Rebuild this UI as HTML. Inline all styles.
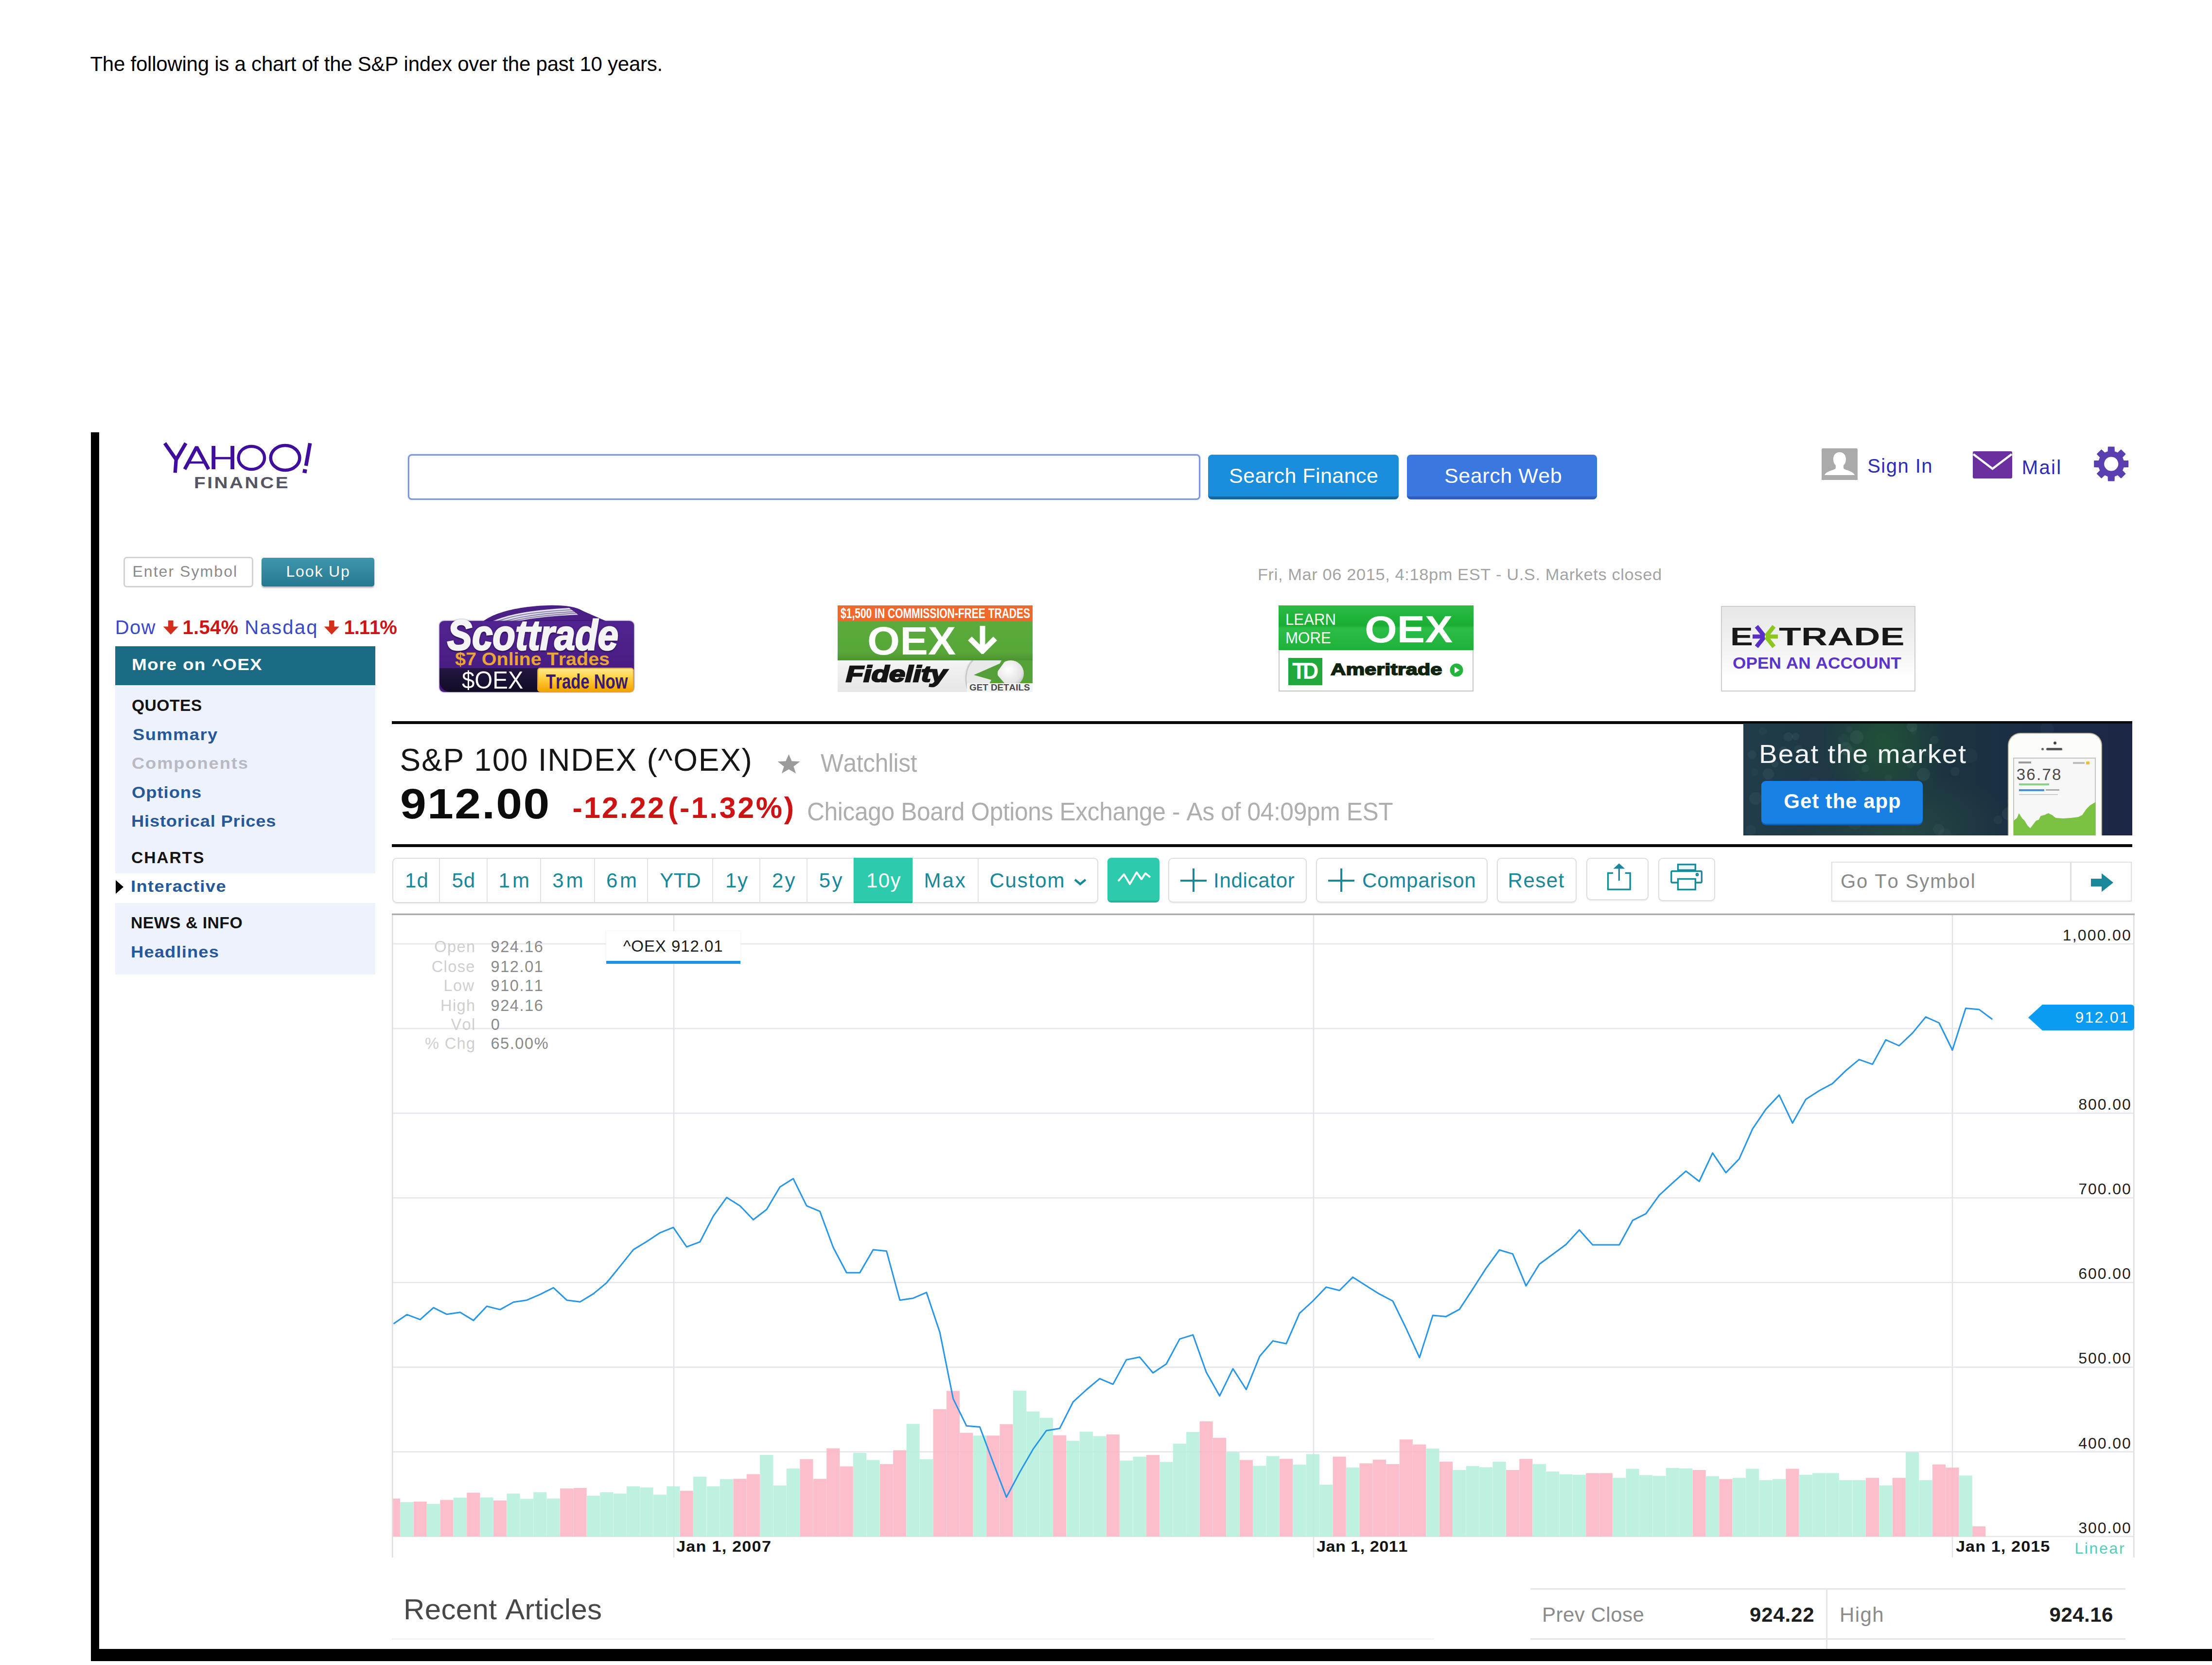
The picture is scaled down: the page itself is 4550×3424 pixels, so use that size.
<!DOCTYPE html>
<html><head><meta charset="utf-8"><title>S&amp;P 100 INDEX chart</title>
<style>
html,body{margin:0;padding:0;background:#fff;}
body{width:4550px;height:3424px;position:relative;overflow:hidden;font-family:"Liberation Sans",sans-serif;font-kerning:none;}
span{font-kerning:none;}
</style></head><body>
<!-- sec_header -->
<span style="position:absolute;left:185.46px;top:111.45px;font-size:42px;line-height:1;white-space:pre;color:#000;letter-spacing:-0.237px;">The following is a chart of the S&amp;P index over the past 10 years.</span>
<div style="position:absolute;left:187.00px;top:889.00px;width:17.00px;height:2527.00px;background:#000;"></div>
<div style="position:absolute;left:187.00px;top:3391.00px;width:4363.00px;height:25.00px;background:#000;"></div>
<svg style="position:absolute;left:300px;top:890px;overflow:visible" width="400" height="140" viewBox="0 0 400 140" fill="none" stroke="#400e9c" stroke-width="7.6" stroke-linecap="butt" stroke-linejoin="miter"><path d="M38.9,21.3 L62.4,55.1 L82.3,21.3 M62.4,53.5 L60.2,82.3" stroke-width="7.3" stroke-linejoin="bevel"/><path d="M79.9,75.0 L104.5,29.3 L129.1,75.0" stroke-width="7.2" stroke-linejoin="bevel"/><path d="M89.5,61.1 L119.3,61.1" stroke-width="4.6"/><path d="M139.2,27.1 L139.2,75.0 M178.1,27.1 L178.1,75.0" stroke-width="7.8"/><path d="M139.2,52.1 L178.1,52.1" stroke-width="4.6"/><ellipse cx="217.3" cy="51.5" rx="26.8" ry="23.7" stroke-width="6.3"/><ellipse cx="286.6" cy="51.5" rx="29.8" ry="25.5" stroke-width="6.6"/><path d="M337.7,21.3 L329.4,67.8" stroke-width="7.6"/><path d="M327.6,75.0 L326.3,82.8" stroke-width="8.4"/></svg>
<span style="position:absolute;left:398.94px;top:975.22px;font-size:34px;line-height:1;white-space:pre;color:#565660;font-weight:700;letter-spacing:3.112px;transform:scaleX(1.1400);transform-origin:0 0;">FINANCE</span>
<div style="position:absolute;left:839.00px;top:934.00px;width:1630.00px;height:94.00px;box-sizing:border-box;border:3px solid #7d96de;border-radius:8px;background:#fff;box-shadow:0 0 3px #b9c6ee;"></div>
<div style="position:absolute;left:2485.00px;top:935.00px;width:392.00px;height:92.00px;box-sizing:border-box;background:#1a8ddb;border-radius:8px;border-bottom:6px solid #17679f;"></div>
<div style="position:absolute;left:2894.00px;top:935.00px;width:391.00px;height:92.00px;box-sizing:border-box;background:#3a78e0;border-radius:8px;border-bottom:6px solid #2d5fba;"></div>
<span style="position:absolute;left:2528.06px;top:956.60px;font-size:43px;line-height:1;white-space:pre;color:#fff;letter-spacing:0.432px;">Search Finance</span>
<span style="position:absolute;left:2971.06px;top:956.60px;font-size:43px;line-height:1;white-space:pre;color:#fff;letter-spacing:0.569px;">Search Web</span>
<svg style="position:absolute;left:3747px;top:922px" width="74" height="65" viewBox="0 0 74 65"><rect width="74" height="65" rx="3" fill="#aaa"/><path d="M37 8c8 0 13 6 13 14 0 6-2 10-5 13v5c0 2 2 3 5 4 9 3 16 6 18 11H6c2-5 9-8 18-11 3-1 5-2 5-4v-5c-3-3-5-7-5-13 0-8 5-14 13-14z" fill="#fff"/><rect y="58" width="74" height="7" fill="#aaa"/></svg>
<span style="position:absolute;left:3841.19px;top:938.14px;font-size:40px;line-height:1;white-space:pre;color:#2d2db4;letter-spacing:1.473px;">Sign In</span>
<svg style="position:absolute;left:4058px;top:928px" width="81" height="56" viewBox="0 0 81 56"><rect width="81" height="56" rx="3" fill="#6b2fa0"/><path d="M1 6 L40.5 36 L80 6" stroke="#fff" stroke-width="4.5" fill="none"/></svg>
<span style="position:absolute;left:4158.75px;top:941.14px;font-size:40px;line-height:1;white-space:pre;color:#2d2db4;letter-spacing:2.349px;">Mail</span>
<svg style="position:absolute;left:0;top:0;overflow:visible" width="10" height="10"><path d="M4336.5 928.7 L4336.8 919.5 L4348.6 919.5 L4348.9 928.7 L4356.2 931.8 L4362.9 925.4 L4371.3 933.8 L4364.9 940.5 L4368.0 947.8 L4377.2 948.1 L4377.2 959.9 L4368.0 960.2 L4364.9 967.5 L4371.3 974.2 L4362.9 982.6 L4356.2 976.2 L4348.9 979.3 L4348.6 988.5 L4336.8 988.5 L4336.5 979.3 L4329.2 976.2 L4322.5 982.6 L4314.1 974.2 L4320.5 967.5 L4317.4 960.2 L4308.2 959.9 L4308.2 948.1 L4317.4 947.8 L4320.5 940.5 L4314.1 933.8 L4322.5 925.4 L4329.2 931.8Z M4342.7 938.5 a15.5 15.5 0 1 0 0.01 0Z" fill="#5b3fb0" fill-rule="evenodd" stroke="#5b3fb0" stroke-width="2" stroke-linejoin="round"/></svg>
<div style="position:absolute;left:254.00px;top:1145.00px;width:267.00px;height:63.00px;box-sizing:border-box;border:3px solid #d2d2d2;border-radius:7px;background:#fff;"></div>
<span style="position:absolute;left:272.38px;top:1158.91px;font-size:32px;line-height:1;white-space:pre;color:#8a8a8a;letter-spacing:2.060px;">Enter Symbol</span>
<div style="position:absolute;left:538.00px;top:1147.00px;width:232.00px;height:59.00px;box-sizing:border-box;background:linear-gradient(#3d97ae,#27788f);border-radius:5px;box-shadow:0 3px 3px #bbb;"></div>
<span style="position:absolute;left:588.38px;top:1158.91px;font-size:32px;line-height:1;white-space:pre;color:#fff;letter-spacing:1.889px;">Look Up</span>
<span style="position:absolute;left:2587.20px;top:1164.57px;font-size:33px;line-height:1;white-space:pre;color:#a3a3a3;letter-spacing:0.624px;transform:scaleX(1.0400);transform-origin:0 0;">Fri, Mar 06 2015, 4:18pm EST - U.S. Markets closed</span>
<!-- sec_side -->
<span style="position:absolute;left:236.75px;top:1269.74px;font-size:40px;line-height:1;white-space:pre;color:#3a49c8;letter-spacing:1.309px;">Dow</span>
<svg style="position:absolute;left:335.0px;top:1276.0px" width="32.5" height="29.0" viewBox="0 0 32 30"><path d="M10.5 0h11v13h10.5L16 30 0 13h10.5z" fill="#d2301c"/></svg>
<span style="position:absolute;left:375.50px;top:1269.74px;font-size:40px;line-height:1;white-space:pre;color:#cc1616;font-weight:700;letter-spacing:0.271px;">1.54%</span>
<span style="position:absolute;left:503.25px;top:1269.74px;font-size:40px;line-height:1;white-space:pre;color:#3a49c8;letter-spacing:2.288px;">Nasdaq</span>
<svg style="position:absolute;left:665.7px;top:1276.0px" width="32.5" height="29.0" viewBox="0 0 32 30"><path d="M10.5 0h11v13h10.5L16 30 0 13h10.5z" fill="#d2301c"/></svg>
<span style="position:absolute;left:707.50px;top:1269.74px;font-size:40px;line-height:1;white-space:pre;color:#cc1616;font-weight:700;letter-spacing:-1.054px;">1.11%</span>
<div style="position:absolute;left:237.00px;top:1329.00px;width:535.00px;height:79.50px;background:#1c6b84;"></div>
<span style="position:absolute;left:270.55px;top:1350.07px;font-size:33px;line-height:1;white-space:pre;color:#fff;font-weight:700;letter-spacing:1.145px;transform:scaleX(1.1200);transform-origin:0 0;">More on ^OEX</span>
<div style="position:absolute;left:237.00px;top:1408.50px;width:535.00px;height:387.50px;background:#eef2fc;"></div>
<div style="position:absolute;left:237.00px;top:1856.50px;width:535.00px;height:147.00px;background:#eef2fc;"></div>
<span style="position:absolute;left:271.06px;top:1433.67px;font-size:33px;line-height:1;white-space:pre;color:#141414;font-weight:700;letter-spacing:0.409px;transform:scaleX(1.0200);transform-origin:0 0;">QUOTES</span>
<span style="position:absolute;left:272.67px;top:1494.07px;font-size:33px;line-height:1;white-space:pre;color:#27589a;font-weight:700;letter-spacing:1.344px;transform:scaleX(1.1000);transform-origin:0 0;">Summary</span>
<span style="position:absolute;left:270.96px;top:1553.47px;font-size:33px;line-height:1;white-space:pre;color:#b9b9c2;font-weight:700;letter-spacing:1.728px;transform:scaleX(1.1000);transform-origin:0 0;">Components</span>
<span style="position:absolute;left:270.96px;top:1612.77px;font-size:33px;line-height:1;white-space:pre;color:#27589a;font-weight:700;letter-spacing:0.926px;transform:scaleX(1.1000);transform-origin:0 0;">Options</span>
<span style="position:absolute;left:269.99px;top:1672.07px;font-size:33px;line-height:1;white-space:pre;color:#27589a;font-weight:700;letter-spacing:0.738px;transform:scaleX(1.1000);transform-origin:0 0;">Historical Prices</span>
<span style="position:absolute;left:269.66px;top:1747.07px;font-size:33px;line-height:1;white-space:pre;color:#141414;font-weight:700;letter-spacing:1.800px;transform:scaleX(1.0200);transform-origin:0 0;">CHARTS</span>
<svg style="position:absolute;left:238px;top:1810px" width="16" height="28" viewBox="0 0 16 28"><path d="M0 0L16 14 0 28z" fill="#000"/></svg>
<span style="position:absolute;left:268.59px;top:1806.07px;font-size:33px;line-height:1;white-space:pre;color:#27589a;font-weight:700;letter-spacing:1.275px;transform:scaleX(1.1000);transform-origin:0 0;">Interactive</span>
<span style="position:absolute;left:268.77px;top:1881.07px;font-size:33px;line-height:1;white-space:pre;color:#141414;font-weight:700;letter-spacing:0.511px;transform:scaleX(1.0200);transform-origin:0 0;">NEWS &amp; INFO</span>
<span style="position:absolute;left:268.59px;top:1940.57px;font-size:33px;line-height:1;white-space:pre;color:#27589a;font-weight:700;letter-spacing:1.069px;transform:scaleX(1.1000);transform-origin:0 0;">Headlines</span>
<!-- sec_ads -->
<svg style="position:absolute;left:0;top:0;overflow:visible" width="10" height="10"><path d="M990.9 1279.8 C1012.2 1262.5 1052.9 1249.3 1113.9 1245.5 C1154.6 1243.4 1181.0 1245.9 1199.3 1256.4 L1248.2 1278.0 Z" fill="#4a1f86"/><path d="M1010.2 1278.8 C1042.7 1264.6 1083.4 1254.8 1170.9 1250.3 L1189.2 1264.2 C1134.2 1266.2 1087.5 1271.7 1059.0 1279.2 Z" fill="#e6e4ee"/><path d="M1022.4 1278.0 C1052.9 1266.2 1093.6 1258.5 1175.9 1254.0 M1036.6 1278.4 C1067.1 1268.6 1103.7 1262.1 1181.0 1257.9 M1048.8 1278.8 C1079.3 1270.7 1113.9 1265.8 1185.1 1261.1" stroke="#8d84ad" stroke-width="2.2" fill="none"/></svg>
<div style="position:absolute;left:904.00px;top:1277.00px;width:400.00px;height:146.00px;box-sizing:border-box;background:linear-gradient(#512391,#431b7a);border-radius:9px;box-shadow:0 0 3px #2b1058;"></div>
<span style="position:absolute;left:920.07px;top:1262.35px;font-size:87px;line-height:1;white-space:pre;color:#f4f4f4;font-weight:700;font-style:italic;transform:scaleX(0.8773);transform-origin:0 0;text-shadow:0 0 5px #1d0a40,0 3px 3px #1d0a40;-webkit-text-stroke:3px #f4f4f4;">Scottrade</span>
<span style="position:absolute;left:935.52px;top:1337.53px;font-size:36px;line-height:1;white-space:pre;color:#eaa53a;font-weight:700;transform:scaleX(1.0964);transform-origin:0 0;">$7 Online Trades</span>
<div style="position:absolute;left:904.00px;top:1374.00px;width:208.00px;height:49.00px;box-sizing:border-box;background:linear-gradient(#241640,#120b26);border-radius:0 0 0 22px;"></div>
<span style="position:absolute;left:949.53px;top:1373.67px;font-size:50px;line-height:1;white-space:pre;color:#fff;transform:scaleX(0.9480);transform-origin:0 0;">$OEX</span>
<div style="position:absolute;left:1105.00px;top:1373.00px;width:199.00px;height:50.00px;box-sizing:border-box;background:linear-gradient(#ffe98c,#ffcf3c 45%,#f5a300);border:2px solid #eaa21c;border-radius:6px;"></div>
<span style="position:absolute;left:1122.67px;top:1379.60px;font-size:43px;line-height:1;white-space:pre;color:#3a1a6e;font-weight:700;transform:scaleX(0.7654);transform-origin:0 0;">Trade Now</span>
<div style="position:absolute;left:1723.00px;top:1245.00px;width:401.00px;height:32.00px;background:#f0692c;"></div>
<span style="position:absolute;left:1728.73px;top:1247.45px;font-size:29px;line-height:1;white-space:pre;color:#fff;font-weight:700;transform:scaleX(0.7247);transform-origin:0 0;">$1,500 IN COMMISSION-FREE TRADES</span>
<div style="position:absolute;left:1723.00px;top:1277.00px;width:401.00px;height:81.00px;background:linear-gradient(#5cab3c,#57a639 80%,#4b9430);"></div>
<span style="position:absolute;left:1784.47px;top:1278.43px;font-size:81px;line-height:1;white-space:pre;color:#fff;font-weight:700;transform:scaleX(1.0657);transform-origin:0 0;">OEX</span>
<svg style="position:absolute;left:1990px;top:1285px" width="62" height="60" viewBox="0 0 62 60"><path d="M31 2V50 M5 28L31 54L57 28" stroke="#fff" stroke-width="11" fill="none" stroke-linejoin="miter"/></svg>
<div style="position:absolute;left:1723.00px;top:1358.00px;width:401.00px;height:65.00px;background:linear-gradient(#f4f4f4,#e6e6e6);"></div>
<span style="position:absolute;left:1740.03px;top:1363.06px;font-size:46px;line-height:1;white-space:pre;color:#151515;font-weight:700;font-style:italic;transform:scaleX(1.2886);transform-origin:0 0;-webkit-text-stroke:2.6px #151515;">Fidelity</span>
<svg style="position:absolute;left:1975px;top:1358px" width="149" height="65" viewBox="0 0 149 65"><defs><radialGradient id="ball" cx="40%" cy="35%" r="75%"><stop offset="0" stop-color="#fff"/><stop offset="0.7" stop-color="#e4e4e4"/><stop offset="1" stop-color="#b9b9b9"/></radialGradient></defs><path d="M14 65 C4 45 6 15 22 0 H149 V65Z" fill="#e9e9e9"/><path d="M18 65 C8 45 10 15 26 0" stroke="#c9c9c9" stroke-width="3" fill="none"/><path d="M85 0 H149 V48 H60 Z" fill="#55a338"/><circle cx="104" cy="27" r="27" fill="url(#ball)"/><path d="M28 30 L92 2 L74 27 L92 48 Z" fill="#559f3a"/><rect x="14" y="47" width="135" height="18" fill="#f3f3f3"/></svg>
<span style="position:absolute;left:1994.26px;top:1404.42px;font-size:19px;line-height:1;white-space:pre;color:#4a4a4a;font-weight:700;transform:scaleX(0.9909);transform-origin:0 0;">GET DETAILS</span>
<div style="position:absolute;left:2630.00px;top:1245.00px;width:401.00px;height:93.00px;background:linear-gradient(#2abb45,#19ae33 45%,#2bbd48 50%,#1fb23a);"></div>
<div style="position:absolute;left:2630.00px;top:1337.00px;width:401.00px;height:85.00px;box-sizing:border-box;background:#fff;border:2.5px solid #c6c6c6;border-top:none;"></div>
<span style="position:absolute;left:2644.48px;top:1256.22px;font-size:34px;line-height:1;white-space:pre;color:#f2fff2;transform:scaleX(0.9177);transform-origin:0 0;">LEARN</span>
<span style="position:absolute;left:2644.47px;top:1293.72px;font-size:34px;line-height:1;white-space:pre;color:#f2fff2;transform:scaleX(0.9200);transform-origin:0 0;">MORE</span>
<span style="position:absolute;left:2807.49px;top:1255.47px;font-size:78px;line-height:1;white-space:pre;color:#fff;font-weight:700;transform:scaleX(1.1002);transform-origin:0 0;">OEX</span>
<div style="position:absolute;left:2650.00px;top:1353.00px;width:70.00px;height:56.00px;background:#20a93a;"></div>
<span style="position:absolute;left:2657.53px;top:1356.37px;font-size:48px;line-height:1;white-space:pre;color:#fff;font-weight:700;letter-spacing:-6.000px;transform:scaleX(0.9368);transform-origin:0 0;">TD</span>
<span style="position:absolute;left:2736.96px;top:1359.22px;font-size:34px;line-height:1;white-space:pre;color:#10240f;font-weight:700;transform:scaleX(1.2786);transform-origin:0 0;-webkit-text-stroke:1.8px #10240f;">Ameritrade</span>
<svg style="position:absolute;left:2982px;top:1364px" width="28" height="28" viewBox="0 0 28 28"><circle cx="14" cy="14" r="13.5" fill="#22b53c"/><path d="M10 7.5 L20.5 14 L10 20.5Z" fill="#fff"/></svg>
<div style="position:absolute;left:3540.00px;top:1246.00px;width:400.00px;height:176.00px;box-sizing:border-box;background:linear-gradient(#e7e7e7,#f3f3f3 50%,#fff 85%);border:2.5px solid #cdcdcd;"></div>
<span style="position:absolute;left:3558.86px;top:1282.98px;font-size:52px;line-height:1;white-space:pre;color:#181818;font-weight:700;transform:scaleX(1.3504);transform-origin:0 0;">E</span>
<span style="position:absolute;left:3659.19px;top:1282.98px;font-size:52px;line-height:1;white-space:pre;color:#181818;font-weight:700;transform:scaleX(1.4444);transform-origin:0 0;">TRADE</span>
<svg style="position:absolute;left:3603px;top:1285px" width="56" height="48" viewBox="0 0 56 48" fill="none" stroke-width="8.5" stroke-linecap="butt"><path d="M2 24H27 M10 3L26 23 M10 45L26 25" stroke="#5a2fc4"/><path d="M29 24H54 M46 3L30 23 M46 45L30 25" stroke="#8cc61e"/></svg>
<span style="position:absolute;left:3563.62px;top:1346.64px;font-size:33.5px;line-height:1;white-space:pre;color:#5a35c8;font-weight:700;transform:scaleX(1.0526);transform-origin:0 0;">OPEN AN ACCOUNT</span>
<!-- sec_title -->
<div style="position:absolute;left:806.00px;top:1482.50px;width:3580.00px;height:6.00px;background:#0a0a0a;"></div>
<div style="position:absolute;left:806.00px;top:1735.50px;width:3580.00px;height:6.00px;background:#0a0a0a;"></div>
<span style="position:absolute;left:822.62px;top:1530.82px;font-size:64px;line-height:1;white-space:pre;color:#161616;letter-spacing:1.722px;">S&amp;P 100 INDEX (^OEX)</span>
<span style="position:absolute;left:822.70px;top:1608.51px;font-size:88px;line-height:1;white-space:pre;color:#0c0c0c;font-weight:700;letter-spacing:2.027px;transform:scaleX(1.1000);transform-origin:0 0;">912.00</span>
<span style="position:absolute;left:1177.62px;top:1631.36px;font-size:61px;line-height:1;white-space:pre;color:#cc1414;font-weight:700;letter-spacing:3.087px;">-12.22</span>
<span style="position:absolute;left:1374.00px;top:1631.36px;font-size:61px;line-height:1;white-space:pre;color:#cc1414;font-weight:700;letter-spacing:3.585px;">(-1.32%)</span>
<svg style="position:absolute;left:1598px;top:1550px" width="49" height="41" viewBox="0 0 52 46" preserveAspectRatio="none"><path d="M26 1 L32.5 17 L50.5 18 L36.5 29.5 L41.5 45.5 L26 36 L10.5 45.5 L15.5 29.5 L1.5 18 L19.5 17Z" fill="#9b9b9b"/></svg>
<span style="position:absolute;left:1687.82px;top:1543.83px;font-size:51px;line-height:1;white-space:pre;color:#adadad;letter-spacing:-0.406px;transform:scaleX(0.9750);transform-origin:0 0;">Watchlist</span>
<span style="position:absolute;left:1659.50px;top:1643.83px;font-size:51px;line-height:1;white-space:pre;color:#aeaeae;letter-spacing:-0.395px;transform:scaleX(0.9750);transform-origin:0 0;">Chicago Board Options Exchange - As of 04:09pm EST</span>
<div style="position:absolute;left:3586px;top:1488px;width:800px;height:230px;overflow:hidden;background:radial-gradient(ellipse 130px 150px at 290px 40px,rgba(36,105,48,.55),rgba(36,105,48,0) 100%),radial-gradient(ellipse 230px 120px at 330px 215px,rgba(45,85,70,.55),rgba(45,85,70,0) 100%),linear-gradient(90deg,#213c4a 0%,#1d3642 30%,#1b3340 55%,#1b2b46 80%,#1c2646 100%);"><div style="position:absolute;left:195px;top:22px;width:24px;height:24px;border-radius:50%;background:rgba(170,215,200,0.03)"></div><div style="position:absolute;left:336px;top:77px;width:15px;height:15px;border-radius:50%;background:rgba(170,215,200,0.06)"></div><div style="position:absolute;left:16px;top:92px;width:15px;height:15px;border-radius:50%;background:rgba(170,215,200,0.03)"></div><div style="position:absolute;left:264px;top:182px;width:16px;height:16px;border-radius:50%;background:rgba(170,215,200,0.04)"></div><div style="position:absolute;left:390px;top:206px;width:23px;height:23px;border-radius:50%;background:rgba(170,215,200,0.05)"></div><div style="position:absolute;left:611px;top:-3px;width:28px;height:28px;border-radius:50%;background:rgba(170,215,200,0.04)"></div><div style="position:absolute;left:83px;top:18px;width:19px;height:19px;border-radius:50%;background:rgba(170,215,200,0.07)"></div><div style="position:absolute;left:104px;top:122px;width:24px;height:24px;border-radius:50%;background:rgba(170,215,200,0.05)"></div><div style="position:absolute;left:343px;top:7px;width:15px;height:15px;border-radius:50%;background:rgba(170,215,200,0.04)"></div><div style="position:absolute;left:426px;top:89px;width:19px;height:19px;border-radius:50%;background:rgba(170,215,200,0.06)"></div><div style="position:absolute;left:277px;top:56px;width:27px;height:27px;border-radius:50%;background:rgba(170,215,200,0.06)"></div><div style="position:absolute;left:145px;top:121px;width:22px;height:22px;border-radius:50%;background:rgba(170,215,200,0.07)"></div><div style="position:absolute;left:452px;top:51px;width:30px;height:30px;border-radius:50%;background:rgba(170,215,200,0.04)"></div><div style="position:absolute;left:259px;top:166px;width:16px;height:16px;border-radius:50%;background:rgba(170,215,200,0.05)"></div><div style="position:absolute;left:12px;top:141px;width:26px;height:26px;border-radius:50%;background:rgba(170,215,200,0.06)"></div><div style="position:absolute;left:548px;top:60px;width:25px;height:25px;border-radius:50%;background:rgba(170,215,200,0.06)"></div><div style="position:absolute;left:357px;top:91px;width:27px;height:27px;border-radius:50%;background:rgba(170,215,200,0.08)"></div><div style="position:absolute;left:296px;top:145px;width:15px;height:15px;border-radius:50%;background:rgba(170,215,200,0.07)"></div><div style="position:absolute;left:401px;top:215px;width:27px;height:27px;border-radius:50%;background:rgba(170,215,200,0.04)"></div><div style="position:absolute;left:240px;top:147px;width:14px;height:14px;border-radius:50%;background:rgba(170,215,200,0.05)"></div><div style="position:absolute;left:100px;top:19px;width:15px;height:15px;border-radius:50%;background:rgba(170,215,200,0.07)"></div><div style="position:absolute;left:73px;top:47px;width:20px;height:20px;border-radius:50%;background:rgba(170,215,200,0.07)"></div><div style="position:absolute;left:40px;top:92px;width:23px;height:23px;border-radius:50%;background:rgba(170,215,200,0.07)"></div><div style="position:absolute;left:515px;top:189px;width:18px;height:18px;border-radius:50%;background:rgba(170,215,200,0.05)"></div><div style="position:absolute;left:215px;top:189px;width:29px;height:29px;border-radius:50%;background:rgba(170,215,200,0.04)"></div><div style="position:absolute;left:104px;top:44px;width:18px;height:18px;border-radius:50%;background:rgba(170,215,200,0.05)"></div><div style="position:absolute;left:370px;top:53px;width:14px;height:14px;border-radius:50%;background:rgba(170,215,200,0.05)"></div><div style="position:absolute;left:222px;top:116px;width:29px;height:29px;border-radius:50%;background:rgba(170,215,200,0.06)"></div><div style="position:absolute;left:318px;top:130px;width:25px;height:25px;border-radius:50%;background:rgba(170,215,200,0.03)"></div><div style="position:absolute;left:562px;top:165px;width:28px;height:28px;border-radius:50%;background:rgba(170,215,200,0.07)"></div><div style="position:absolute;left:243px;top:84px;width:16px;height:16px;border-radius:50%;background:rgba(170,215,200,0.06)"></div><div style="position:absolute;left:31px;top:7px;width:17px;height:17px;border-radius:50%;background:rgba(170,215,200,0.04)"></div><div style="position:absolute;left:211px;top:5px;width:14px;height:14px;border-radius:50%;background:rgba(170,215,200,0.04)"></div><div style="position:absolute;left:58px;top:76px;width:14px;height:14px;border-radius:50%;background:rgba(170,215,200,0.07)"></div><div style="position:absolute;left:384px;top:25px;width:18px;height:18px;border-radius:50%;background:rgba(170,215,200,0.05)"></div><div style="position:absolute;left:219px;top:14px;width:28px;height:28px;border-radius:50%;background:rgba(170,215,200,0.08)"></div><div style="position:absolute;left:291px;top:104px;width:15px;height:15px;border-radius:50%;background:rgba(170,215,200,0.04)"></div><div style="position:absolute;left:206px;top:47px;width:27px;height:27px;border-radius:50%;background:rgba(170,215,200,0.04)"></div><div style="position:absolute;left:4px;top:208px;width:22px;height:22px;border-radius:50%;background:rgba(170,215,200,0.04)"></div><div style="position:absolute;left:336px;top:-5px;width:22px;height:22px;border-radius:50%;background:rgba(170,215,200,0.08)"></div><div style="position:absolute;left:543px;top:151px;width:18px;height:18px;border-radius:50%;background:rgba(170,215,200,0.05)"></div><div style="position:absolute;left:96px;top:166px;width:23px;height:23px;border-radius:50%;background:rgba(170,215,200,0.07)"></div><div style="position:absolute;left:197px;top:38px;width:27px;height:27px;border-radius:50%;background:rgba(170,215,200,0.08)"></div><div style="position:absolute;left:532px;top:172px;width:27px;height:27px;border-radius:50%;background:rgba(170,215,200,0.07)"></div><div style="position:absolute;left:135px;top:109px;width:20px;height:20px;border-radius:50%;background:rgba(170,215,200,0.03)"></div><div style="position:absolute;left:9px;top:55px;width:18px;height:18px;border-radius:50%;background:rgba(170,215,200,0.06)"></div><div style="position:absolute;left:545.5px;top:21.0px;width:190.5px;height:260px;border-radius:24px;background:#fcfcfb;box-shadow:0 0 0 2px rgba(230,215,180,.8);"></div><div style="position:absolute;left:623.0px;top:50.0px;width:33px;height:5px;border-radius:3px;background:#555"></div><div style="position:absolute;left:638.0px;top:36.5px;width:6px;height:6px;border-radius:3px;background:#444"></div><div style="position:absolute;left:613.0px;top:50.0px;width:5px;height:5px;border-radius:3px;background:#666"></div><div style="position:absolute;left:555.0px;top:70.0px;width:170px;height:170px;background:#f7f7f7;border:2px solid #c4c4c4;box-sizing:border-box"></div><div style="position:absolute;left:566.0px;top:78.0px;width:26px;height:4px;background:#999"></div><div style="position:absolute;left:678.0px;top:79.0px;width:24px;height:4px;background:#bbb"></div><div style="position:absolute;left:705.0px;top:78.0px;width:7px;height:6px;background:#f0c030"></div><div style="position:absolute;left:567.0px;top:122.5px;width:62px;height:4px;background:#8fd08a"></div><div style="position:absolute;left:567.0px;top:134.5px;width:52px;height:4px;background:#4a8fd8"></div><div style="position:absolute;left:622.0px;top:135.0px;width:28px;height:3px;background:#aaa"></div><div style="position:absolute;left:567.0px;top:145.0px;width:80px;height:2px;background:#ccc"></div><svg style="position:absolute;left:0;top:0" width="800" height="230"><polygon points="556.0,199.7 563.0,193.9 566.9,184.2 572.8,193.9 578.6,199.7 584.4,209.4 590.2,215.3 596.1,207.5 601.9,199.7 607.7,197.8 611.6,190.0 619.4,188.1 627.2,184.2 635.0,188.1 642.7,193.9 658.3,195.1 673.8,193.9 689.4,192.0 697.2,188.1 704.9,176.4 712.7,168.6 718.6,164.7 724.4,161.6 724.4,230.8 556.0,230.8" fill="#7cc242"/></svg><div style="position:absolute;left:37.0px;top:118.0px;width:332px;height:88px;border-radius:9px;background:#1781e4;box-shadow:0 3px 0 #0f5fb5;"></div></div>
<span style="position:absolute;left:3618.41px;top:1523.29px;font-size:54px;line-height:1;white-space:pre;color:#f2f4f4;letter-spacing:1.751px;transform:scaleX(1.0500);transform-origin:0 0;">Beat the market</span>
<span style="position:absolute;left:3669.31px;top:1626.95px;font-size:42px;line-height:1;white-space:pre;color:#fff;font-weight:700;letter-spacing:0.938px;">Get the app</span>
<span style="position:absolute;left:4147.75px;top:1576.07px;font-size:33px;line-height:1;white-space:pre;color:#4a4a4a;letter-spacing:2.271px;">36.78</span>
<!-- sec_toolbar -->
<div style="position:absolute;left:807.00px;top:1763.50px;width:1452.00px;height:93.50px;box-sizing:border-box;border:2.5px solid #dedede;border-radius:9px;background:#fff;box-shadow:0 2px 2px #eee;"></div>
<div style="position:absolute;left:903.00px;top:1765.50px;width:2.00px;height:89.50px;background:#e2e2e2;"></div>
<div style="position:absolute;left:1000.50px;top:1765.50px;width:2.00px;height:89.50px;background:#e2e2e2;"></div>
<div style="position:absolute;left:1111.00px;top:1765.50px;width:2.00px;height:89.50px;background:#e2e2e2;"></div>
<div style="position:absolute;left:1221.50px;top:1765.50px;width:2.00px;height:89.50px;background:#e2e2e2;"></div>
<div style="position:absolute;left:1331.00px;top:1765.50px;width:2.00px;height:89.50px;background:#e2e2e2;"></div>
<div style="position:absolute;left:1465.00px;top:1765.50px;width:2.00px;height:89.50px;background:#e2e2e2;"></div>
<div style="position:absolute;left:1562.00px;top:1765.50px;width:2.00px;height:89.50px;background:#e2e2e2;"></div>
<div style="position:absolute;left:1659.00px;top:1765.50px;width:2.00px;height:89.50px;background:#e2e2e2;"></div>
<div style="position:absolute;left:1755.00px;top:1765.50px;width:2.00px;height:89.50px;background:#e2e2e2;"></div>
<div style="position:absolute;left:1875.50px;top:1765.50px;width:2.00px;height:89.50px;background:#e2e2e2;"></div>
<div style="position:absolute;left:2011.00px;top:1765.50px;width:2.00px;height:89.50px;background:#e2e2e2;"></div>
<div style="position:absolute;left:1756.00px;top:1763.50px;width:120.50px;height:93.50px;background:#2ccbae;border-bottom:3px solid #25b39a;box-sizing:border-box;"></div>
<span style="position:absolute;left:832.92px;top:1790.45px;font-size:42px;line-height:1;white-space:pre;color:#19889a;letter-spacing:1.178px;">1d</span>
<span style="position:absolute;left:929.40px;top:1790.45px;font-size:42px;line-height:1;white-space:pre;color:#19889a;letter-spacing:0.971px;">5d</span>
<span style="position:absolute;left:1025.47px;top:1790.45px;font-size:42px;line-height:1;white-space:pre;color:#19889a;letter-spacing:5.209px;">1m</span>
<span style="position:absolute;left:1136.25px;top:1790.45px;font-size:42px;line-height:1;white-space:pre;color:#19889a;letter-spacing:4.940px;">3m</span>
<span style="position:absolute;left:1246.88px;top:1790.45px;font-size:42px;line-height:1;white-space:pre;color:#19889a;letter-spacing:4.825px;">6m</span>
<span style="position:absolute;left:1357.29px;top:1790.45px;font-size:42px;line-height:1;white-space:pre;color:#19889a;letter-spacing:0.096px;">YTD</span>
<span style="position:absolute;left:1491.93px;top:1790.45px;font-size:42px;line-height:1;white-space:pre;color:#19889a;letter-spacing:1.606px;">1y</span>
<span style="position:absolute;left:1587.98px;top:1790.45px;font-size:42px;line-height:1;white-space:pre;color:#19889a;letter-spacing:3.193px;">2y</span>
<span style="position:absolute;left:1684.69px;top:1790.45px;font-size:42px;line-height:1;white-space:pre;color:#19889a;letter-spacing:3.433px;">5y</span>
<span style="position:absolute;left:1782.12px;top:1790.45px;font-size:42px;line-height:1;white-space:pre;color:#fff;letter-spacing:1.328px;">10y</span>
<span style="position:absolute;left:1900.52px;top:1790.45px;font-size:42px;line-height:1;white-space:pre;color:#19889a;letter-spacing:2.945px;">Max</span>
<span style="position:absolute;left:2035.39px;top:1790.45px;font-size:42px;line-height:1;white-space:pre;color:#19889a;letter-spacing:1.864px;">Custom</span>
<svg style="position:absolute;left:2208px;top:1806px" width="28" height="16" viewBox="0 0 28 16"><path d="M3 3L14 12L25 3" stroke="#19889a" stroke-width="4.5" fill="none"/></svg>
<div style="position:absolute;left:2278.00px;top:1763.50px;width:107.00px;height:92.50px;box-sizing:border-box;background:#2ccbae;border-radius:8px;border-bottom:4px solid #25b39a;"></div>
<svg style="position:absolute;left:2298px;top:1788px" width="70" height="40" viewBox="0 0 70 40"><path d="M2 24 L14 10 L26 30 L40 6 L50 20 L58 8 L68 16" stroke="#fff" stroke-width="4" fill="none" stroke-linejoin="round"/></svg>
<div style="position:absolute;left:2403.00px;top:1763.50px;width:285.00px;height:92.50px;box-sizing:border-box;border:2.5px solid #dedede;border-radius:9px;background:#fff;box-shadow:0 2px 2px #eee;"></div>
<div style="position:absolute;left:2428.00px;top:1809.00px;width:54.00px;height:4.00px;background:#19889a;"></div>
<div style="position:absolute;left:2453.00px;top:1786.00px;width:4.00px;height:48.00px;background:#19889a;"></div>
<span style="position:absolute;left:2496.12px;top:1790.45px;font-size:42px;line-height:1;white-space:pre;color:#19889a;letter-spacing:0.682px;">Indicator</span>
<div style="position:absolute;left:2707.00px;top:1763.50px;width:353.00px;height:92.50px;box-sizing:border-box;border:2.5px solid #dedede;border-radius:9px;background:#fff;box-shadow:0 2px 2px #eee;"></div>
<div style="position:absolute;left:2732.00px;top:1809.00px;width:54.00px;height:4.00px;background:#19889a;"></div>
<div style="position:absolute;left:2757.00px;top:1786.00px;width:4.00px;height:48.00px;background:#19889a;"></div>
<span style="position:absolute;left:2801.88px;top:1790.45px;font-size:42px;line-height:1;white-space:pre;color:#19889a;letter-spacing:0.819px;">Comparison</span>
<div style="position:absolute;left:3079.00px;top:1763.50px;width:164.00px;height:92.50px;box-sizing:border-box;border:2.5px solid #dedede;border-radius:9px;background:#fff;box-shadow:0 2px 2px #eee;"></div>
<span style="position:absolute;left:3101.56px;top:1790.45px;font-size:42px;line-height:1;white-space:pre;color:#19889a;letter-spacing:1.504px;">Reset</span>
<div style="position:absolute;left:3263.00px;top:1763.50px;width:128.00px;height:87.50px;box-sizing:border-box;border:2.5px solid #dedede;border-radius:9px;background:#fff;box-shadow:0 2px 2px #eee;"></div>
<svg style="position:absolute;left:0;top:0;overflow:visible" width="10" height="10" fill="none" stroke="#19889a" stroke-width="3.3"><path d="M3318 1795.4H3307.6V1829.2H3353.2V1795.4H3342.8"/><path d="M3330.4 1782V1811"/><path d="M3330.4 1775.5L3318.5 1786.5H3342.3Z" fill="#19889a" stroke="none"/></svg>
<div style="position:absolute;left:3410.50px;top:1763.50px;width:117.50px;height:89.50px;box-sizing:border-box;border:2.5px solid #dedede;border-radius:9px;background:#fff;box-shadow:0 2px 2px #eee;"></div>
<svg style="position:absolute;left:0;top:0;overflow:visible" width="10" height="10" fill="none" stroke="#19889a" stroke-width="3.3"><rect x="3451.5" y="1777.8" width="35.8" height="11.5" fill="#eaf6f7"/><rect x="3437.8" y="1791.5" width="62.5" height="23.5" rx="2" fill="#fff"/><rect x="3451.5" y="1807.5" width="35.8" height="21.8" fill="#fff"/><circle cx="3491" cy="1798.5" r="2" stroke-width="3"/></svg>
<div style="position:absolute;left:3767.00px;top:1772.00px;width:618.00px;height:82.00px;box-sizing:border-box;border:2.5px solid #e2e2e2;background:#fff;box-shadow:0 1px 3px #eee;"></div>
<div style="position:absolute;left:4258.00px;top:1774.00px;width:2.50px;height:78.00px;background:#dedede;"></div>
<span style="position:absolute;left:3786.00px;top:1792.14px;font-size:40px;line-height:1;white-space:pre;color:#8a8a8a;letter-spacing:1.908px;">Go To Symbol</span>
<svg style="position:absolute;left:4301px;top:1796px" width="46" height="38" viewBox="0 0 46 38"><path d="M0 11H22V0L46 19L22 38V27H0Z" fill="#19889a"/></svg>
<!-- sec_chart -->
<svg style="position:absolute;left:0;top:0" width="4550" height="3424" viewBox="0 0 4550 3424"><rect x="808" y="1939.7" width="3581" height="2.6" fill="#e6e6ec"/><rect x="808" y="2113.8" width="3581" height="2.6" fill="#e6e6ec"/><rect x="808" y="2287.9" width="3581" height="2.6" fill="#e6e6ec"/><rect x="808" y="2462.0" width="3581" height="2.6" fill="#e6e6ec"/><rect x="808" y="2636.1" width="3581" height="2.6" fill="#e6e6ec"/><rect x="808" y="2810.2" width="3581" height="2.6" fill="#e6e6ec"/><rect x="808" y="2984.3" width="3581" height="2.6" fill="#e6e6ec"/><rect x="808" y="3158.4" width="3581" height="2.6" fill="#e6e6ec"/><rect x="1384.7" y="1882" width="2.6" height="1321" fill="#e3e3eb"/><rect x="2700.7" y="1882" width="2.6" height="1321" fill="#e3e3eb"/><rect x="4014.7" y="1882" width="2.6" height="1321" fill="#e3e3eb"/><rect x="808.0" y="3081.7" width="14.9" height="78.0" fill="#fcb5c3" fill-opacity="0.88"/><rect x="823.2" y="3089.1" width="27.1" height="70.6" fill="#b5efdb" fill-opacity="0.88"/><rect x="850.6" y="3088.0" width="27.1" height="71.7" fill="#fcb5c3" fill-opacity="0.88"/><rect x="878.0" y="3092.6" width="27.1" height="67.1" fill="#b5efdb" fill-opacity="0.88"/><rect x="905.4" y="3084.6" width="27.1" height="75.1" fill="#fcb5c3" fill-opacity="0.88"/><rect x="932.8" y="3080.0" width="27.1" height="79.7" fill="#b5efdb" fill-opacity="0.88"/><rect x="960.2" y="3069.7" width="27.1" height="90.0" fill="#fcb5c3" fill-opacity="0.88"/><rect x="987.6" y="3079.4" width="27.1" height="80.3" fill="#b5efdb" fill-opacity="0.88"/><rect x="1015.0" y="3085.7" width="27.1" height="74.0" fill="#fcb5c3" fill-opacity="0.88"/><rect x="1042.5" y="3071.5" width="27.1" height="88.2" fill="#b5efdb" fill-opacity="0.88"/><rect x="1069.9" y="3082.3" width="27.1" height="77.4" fill="#b5efdb" fill-opacity="0.88"/><rect x="1097.3" y="3068.6" width="27.1" height="91.1" fill="#b5efdb" fill-opacity="0.88"/><rect x="1124.7" y="3081.7" width="27.1" height="78.0" fill="#b5efdb" fill-opacity="0.88"/><rect x="1152.1" y="3061.2" width="27.1" height="98.5" fill="#fcb5c3" fill-opacity="0.88"/><rect x="1179.5" y="3060.0" width="27.1" height="99.7" fill="#fcb5c3" fill-opacity="0.88"/><rect x="1206.9" y="3076.0" width="27.1" height="83.7" fill="#b5efdb" fill-opacity="0.88"/><rect x="1234.3" y="3068.6" width="27.1" height="91.1" fill="#b5efdb" fill-opacity="0.88"/><rect x="1261.7" y="3071.5" width="27.1" height="88.2" fill="#b5efdb" fill-opacity="0.88"/><rect x="1289.1" y="3056.6" width="27.1" height="103.1" fill="#b5efdb" fill-opacity="0.88"/><rect x="1316.5" y="3058.9" width="27.1" height="100.8" fill="#b5efdb" fill-opacity="0.88"/><rect x="1343.9" y="3073.7" width="27.1" height="86.0" fill="#b5efdb" fill-opacity="0.88"/><rect x="1371.3" y="3056.6" width="27.1" height="103.1" fill="#b5efdb" fill-opacity="0.88"/><rect x="1398.7" y="3065.7" width="27.1" height="94.0" fill="#fcb5c3" fill-opacity="0.88"/><rect x="1426.1" y="3036.6" width="27.1" height="123.1" fill="#b5efdb" fill-opacity="0.88"/><rect x="1453.5" y="3056.6" width="27.1" height="103.1" fill="#b5efdb" fill-opacity="0.88"/><rect x="1480.9" y="3041.8" width="27.1" height="117.9" fill="#b5efdb" fill-opacity="0.88"/><rect x="1508.4" y="3041.2" width="27.1" height="118.5" fill="#fcb5c3" fill-opacity="0.88"/><rect x="1535.8" y="3031.5" width="27.1" height="128.2" fill="#fcb5c3" fill-opacity="0.88"/><rect x="1563.2" y="2992.1" width="27.1" height="167.6" fill="#b5efdb" fill-opacity="0.88"/><rect x="1590.6" y="3054.9" width="27.1" height="104.8" fill="#b5efdb" fill-opacity="0.88"/><rect x="1618.0" y="3020.1" width="27.1" height="139.6" fill="#b5efdb" fill-opacity="0.88"/><rect x="1645.4" y="3000.7" width="27.1" height="159.0" fill="#fcb5c3" fill-opacity="0.88"/><rect x="1672.8" y="3041.2" width="27.1" height="118.5" fill="#fcb5c3" fill-opacity="0.88"/><rect x="1700.2" y="2978.4" width="27.1" height="181.3" fill="#fcb5c3" fill-opacity="0.88"/><rect x="1727.6" y="3015.5" width="27.1" height="144.2" fill="#fcb5c3" fill-opacity="0.88"/><rect x="1755.0" y="2987.6" width="27.1" height="172.1" fill="#b5efdb" fill-opacity="0.88"/><rect x="1782.4" y="3002.4" width="27.1" height="157.3" fill="#b5efdb" fill-opacity="0.88"/><rect x="1809.8" y="3011.0" width="27.1" height="148.7" fill="#fcb5c3" fill-opacity="0.88"/><rect x="1837.2" y="2982.4" width="27.1" height="177.3" fill="#fcb5c3" fill-opacity="0.88"/><rect x="1864.6" y="2928.2" width="27.1" height="231.5" fill="#b5efdb" fill-opacity="0.88"/><rect x="1892.0" y="3000.7" width="27.1" height="159.0" fill="#b5efdb" fill-opacity="0.88"/><rect x="1919.4" y="2898.0" width="27.1" height="261.7" fill="#fcb5c3" fill-opacity="0.88"/><rect x="1946.8" y="2860.3" width="27.1" height="299.4" fill="#fcb5c3" fill-opacity="0.88"/><rect x="1974.3" y="2946.5" width="27.1" height="213.2" fill="#fcb5c3" fill-opacity="0.88"/><rect x="2001.7" y="2952.2" width="27.1" height="207.5" fill="#b5efdb" fill-opacity="0.88"/><rect x="2029.1" y="2952.2" width="27.1" height="207.5" fill="#fcb5c3" fill-opacity="0.88"/><rect x="2056.5" y="2928.8" width="27.1" height="230.9" fill="#fcb5c3" fill-opacity="0.88"/><rect x="2083.9" y="2859.8" width="27.1" height="299.9" fill="#b5efdb" fill-opacity="0.88"/><rect x="2111.3" y="2902.6" width="27.1" height="257.1" fill="#b5efdb" fill-opacity="0.88"/><rect x="2138.7" y="2915.7" width="27.1" height="244.0" fill="#b5efdb" fill-opacity="0.88"/><rect x="2166.1" y="2951.6" width="27.1" height="208.1" fill="#fcb5c3" fill-opacity="0.88"/><rect x="2193.5" y="2963.0" width="27.1" height="196.7" fill="#b5efdb" fill-opacity="0.88"/><rect x="2220.9" y="2944.2" width="27.1" height="215.5" fill="#b5efdb" fill-opacity="0.88"/><rect x="2248.3" y="2953.3" width="27.1" height="206.4" fill="#b5efdb" fill-opacity="0.88"/><rect x="2275.7" y="2949.9" width="27.1" height="209.8" fill="#fcb5c3" fill-opacity="0.88"/><rect x="2303.1" y="3003.5" width="27.1" height="156.2" fill="#b5efdb" fill-opacity="0.88"/><rect x="2330.5" y="2995.6" width="27.1" height="164.1" fill="#b5efdb" fill-opacity="0.88"/><rect x="2357.9" y="2992.1" width="27.1" height="167.6" fill="#fcb5c3" fill-opacity="0.88"/><rect x="2385.3" y="3006.4" width="27.1" height="153.3" fill="#b5efdb" fill-opacity="0.88"/><rect x="2412.8" y="2968.7" width="27.1" height="191.0" fill="#b5efdb" fill-opacity="0.88"/><rect x="2440.2" y="2944.8" width="27.1" height="214.9" fill="#b5efdb" fill-opacity="0.88"/><rect x="2467.6" y="2923.1" width="27.1" height="236.6" fill="#fcb5c3" fill-opacity="0.88"/><rect x="2495.0" y="2956.8" width="27.1" height="202.9" fill="#fcb5c3" fill-opacity="0.88"/><rect x="2522.4" y="2985.9" width="27.1" height="173.8" fill="#b5efdb" fill-opacity="0.88"/><rect x="2549.8" y="3002.4" width="27.1" height="157.3" fill="#fcb5c3" fill-opacity="0.88"/><rect x="2577.2" y="3014.4" width="27.1" height="145.3" fill="#b5efdb" fill-opacity="0.88"/><rect x="2604.6" y="2994.4" width="27.1" height="165.3" fill="#b5efdb" fill-opacity="0.88"/><rect x="2632.0" y="3000.1" width="27.1" height="159.6" fill="#fcb5c3" fill-opacity="0.88"/><rect x="2659.4" y="3012.1" width="27.1" height="147.6" fill="#b5efdb" fill-opacity="0.88"/><rect x="2686.8" y="2990.4" width="27.1" height="169.3" fill="#b5efdb" fill-opacity="0.88"/><rect x="2714.2" y="3053.2" width="27.1" height="106.5" fill="#b5efdb" fill-opacity="0.88"/><rect x="2741.6" y="2995.6" width="27.1" height="164.1" fill="#fcb5c3" fill-opacity="0.88"/><rect x="2769.0" y="3017.8" width="27.1" height="141.9" fill="#b5efdb" fill-opacity="0.88"/><rect x="2796.4" y="3009.3" width="27.1" height="150.4" fill="#fcb5c3" fill-opacity="0.88"/><rect x="2823.8" y="3001.8" width="27.1" height="157.9" fill="#fcb5c3" fill-opacity="0.88"/><rect x="2851.2" y="3011.0" width="27.1" height="148.7" fill="#fcb5c3" fill-opacity="0.88"/><rect x="2878.7" y="2960.2" width="27.1" height="199.5" fill="#fcb5c3" fill-opacity="0.88"/><rect x="2906.1" y="2970.5" width="27.1" height="189.2" fill="#fcb5c3" fill-opacity="0.88"/><rect x="2933.5" y="2979.0" width="27.1" height="180.7" fill="#b5efdb" fill-opacity="0.88"/><rect x="2960.9" y="3005.8" width="27.1" height="153.9" fill="#fcb5c3" fill-opacity="0.88"/><rect x="2988.3" y="3023.0" width="27.1" height="136.7" fill="#b5efdb" fill-opacity="0.88"/><rect x="3015.7" y="3014.8" width="27.1" height="144.8" fill="#b5efdb" fill-opacity="0.88"/><rect x="3043.1" y="3017.3" width="27.1" height="142.4" fill="#b5efdb" fill-opacity="0.88"/><rect x="3070.5" y="3005.9" width="27.1" height="153.8" fill="#b5efdb" fill-opacity="0.88"/><rect x="3097.9" y="3023.0" width="27.1" height="136.7" fill="#fcb5c3" fill-opacity="0.88"/><rect x="3125.3" y="3000.3" width="27.1" height="159.4" fill="#fcb5c3" fill-opacity="0.88"/><rect x="3152.7" y="3010.8" width="27.1" height="148.9" fill="#b5efdb" fill-opacity="0.88"/><rect x="3180.1" y="3026.2" width="27.1" height="133.5" fill="#b5efdb" fill-opacity="0.88"/><rect x="3207.5" y="3031.9" width="27.1" height="127.8" fill="#b5efdb" fill-opacity="0.88"/><rect x="3234.9" y="3032.7" width="27.1" height="127.0" fill="#b5efdb" fill-opacity="0.88"/><rect x="3262.3" y="3029.4" width="27.1" height="130.3" fill="#fcb5c3" fill-opacity="0.88"/><rect x="3289.7" y="3029.4" width="27.1" height="130.3" fill="#fcb5c3" fill-opacity="0.88"/><rect x="3317.1" y="3039.2" width="27.1" height="120.5" fill="#b5efdb" fill-opacity="0.88"/><rect x="3344.6" y="3020.5" width="27.1" height="139.2" fill="#b5efdb" fill-opacity="0.88"/><rect x="3372.0" y="3033.5" width="27.1" height="126.2" fill="#b5efdb" fill-opacity="0.88"/><rect x="3399.4" y="3035.1" width="27.1" height="124.6" fill="#b5efdb" fill-opacity="0.88"/><rect x="3426.8" y="3018.9" width="27.1" height="140.8" fill="#b5efdb" fill-opacity="0.88"/><rect x="3454.2" y="3019.7" width="27.1" height="140.0" fill="#b5efdb" fill-opacity="0.88"/><rect x="3481.6" y="3023.0" width="27.1" height="136.7" fill="#fcb5c3" fill-opacity="0.88"/><rect x="3509.0" y="3035.9" width="27.1" height="123.8" fill="#b5efdb" fill-opacity="0.88"/><rect x="3536.4" y="3041.6" width="27.1" height="118.1" fill="#fcb5c3" fill-opacity="0.88"/><rect x="3563.8" y="3039.2" width="27.1" height="120.5" fill="#b5efdb" fill-opacity="0.88"/><rect x="3591.2" y="3020.5" width="27.1" height="139.2" fill="#b5efdb" fill-opacity="0.88"/><rect x="3618.6" y="3044.0" width="27.1" height="115.7" fill="#b5efdb" fill-opacity="0.88"/><rect x="3646.0" y="3041.6" width="27.1" height="118.1" fill="#b5efdb" fill-opacity="0.88"/><rect x="3673.4" y="3020.5" width="27.1" height="139.2" fill="#fcb5c3" fill-opacity="0.88"/><rect x="3700.8" y="3032.7" width="27.1" height="127.0" fill="#b5efdb" fill-opacity="0.88"/><rect x="3728.2" y="3029.4" width="27.1" height="130.3" fill="#b5efdb" fill-opacity="0.88"/><rect x="3755.6" y="3029.4" width="27.1" height="130.3" fill="#b5efdb" fill-opacity="0.88"/><rect x="3783.1" y="3044.0" width="27.1" height="115.7" fill="#b5efdb" fill-opacity="0.88"/><rect x="3810.5" y="3044.0" width="27.1" height="115.7" fill="#b5efdb" fill-opacity="0.88"/><rect x="3837.9" y="3039.2" width="27.1" height="120.5" fill="#fcb5c3" fill-opacity="0.88"/><rect x="3865.3" y="3054.6" width="27.1" height="105.1" fill="#b5efdb" fill-opacity="0.88"/><rect x="3892.7" y="3039.2" width="27.1" height="120.5" fill="#fcb5c3" fill-opacity="0.88"/><rect x="3920.1" y="2986.5" width="27.1" height="173.2" fill="#b5efdb" fill-opacity="0.88"/><rect x="3947.5" y="3044.0" width="27.1" height="115.7" fill="#b5efdb" fill-opacity="0.88"/><rect x="3974.9" y="3011.6" width="27.1" height="148.1" fill="#fcb5c3" fill-opacity="0.88"/><rect x="4002.3" y="3018.1" width="27.1" height="141.6" fill="#fcb5c3" fill-opacity="0.88"/><rect x="4029.7" y="3034.3" width="27.1" height="125.4" fill="#b5efdb" fill-opacity="0.88"/><rect x="4057.1" y="3138.9" width="27.1" height="20.8" fill="#fcb5c3" fill-opacity="0.88"/><polyline points="809.5,2722.2 836.9,2703.4 864.3,2713.7 891.7,2689.1 919.1,2702.8 946.5,2698.8 973.9,2715.4 1001.3,2686.3 1028.7,2693.1 1056.2,2677.7 1083.6,2673.7 1111.0,2661.8 1138.4,2648.1 1165.8,2673.7 1193.2,2677.2 1220.6,2660.6 1248.0,2637.8 1275.4,2604.1 1302.8,2569.9 1330.2,2553.3 1357.6,2535.1 1385.0,2524.2 1412.4,2564.2 1439.8,2553.9 1467.2,2500.9 1494.7,2462.6 1522.1,2479.7 1549.5,2508.3 1576.9,2487.2 1604.3,2440.9 1631.7,2423.8 1659.1,2479.7 1686.5,2491.2 1713.9,2565.3 1741.3,2617.3 1768.7,2617.3 1796.1,2569.9 1823.5,2572.7 1850.9,2673.7 1878.3,2669.7 1905.7,2657.8 1933.1,2739.4 1960.6,2876.3 1988.0,2932.2 2015.4,2934.5 2042.8,3007.5 2070.2,3078.9 2097.6,3027.5 2125.0,2980.2 2152.4,2941.9 2179.8,2937.4 2207.2,2883.2 2234.6,2858.0 2262.0,2835.2 2289.4,2846.6 2316.8,2796.4 2344.2,2790.7 2371.6,2823.2 2399.0,2805.0 2426.5,2753.6 2453.9,2745.1 2481.3,2822.1 2508.7,2870.6 2536.1,2814.7 2563.5,2857.5 2590.9,2789.6 2618.3,2757.6 2645.7,2763.3 2673.1,2700.6 2700.5,2675.5 2727.9,2646.9 2755.3,2653.8 2782.7,2626.4 2810.1,2644.1 2837.5,2661.2 2864.9,2675.5 2892.4,2731.9 2919.8,2791.9 2947.2,2705.1 2974.6,2707.4 3002.0,2692.6 3029.4,2650.9 3056.8,2608.1 3084.2,2570.5 3111.6,2578.6 3139.0,2644.3 3166.4,2599.7 3193.8,2579.5 3221.2,2559.2 3248.6,2529.2 3276.0,2560.0 3303.4,2560.0 3330.9,2560.0 3358.3,2509.7 3385.7,2495.9 3413.1,2457.8 3440.5,2432.7 3467.9,2408.4 3495.3,2429.5 3522.7,2371.1 3550.1,2411.6 3577.5,2383.2 3604.9,2321.6 3632.3,2281.1 3659.7,2251.9 3687.1,2309.5 3714.5,2260.8 3741.9,2243.0 3769.3,2228.4 3796.8,2201.6 3824.2,2178.9 3851.6,2188.6 3879.0,2138.4 3906.4,2150.5 3933.8,2124.6 3961.2,2091.3 3988.6,2103.5 4016.0,2159.5 4043.4,2073.5 4070.8,2075.9 4098.2,2096.2" fill="none" stroke="#2896e8" stroke-width="3" stroke-linejoin="round"/><rect x="806" y="1878.5" width="3585" height="3.5" fill="#adadad"/><rect x="806" y="1882" width="2.6" height="1321" fill="#dedede"/><rect x="4388" y="1882" width="2.6" height="1321" fill="#e0e0e0"/><path d="M4172 2092.5 L4201 2066 H4383 Q4390 2066 4390 2073 V2112 Q4390 2119 4383 2119 H4201 Z" fill="#0a9bf3"/></svg>
<span style="position:absolute;left:893.37px;top:1930.99px;font-size:32.5px;line-height:1;white-space:pre;color:#cfcfcf;letter-spacing:1.400px;">Open</span>
<span style="position:absolute;left:1009.50px;top:1930.99px;font-size:32.5px;line-height:1;white-space:pre;color:#8a8a8a;letter-spacing:1.600px;">924.16</span>
<span style="position:absolute;left:887.70px;top:1972.09px;font-size:32.5px;line-height:1;white-space:pre;color:#cfcfcf;letter-spacing:1.400px;">Close</span>
<span style="position:absolute;left:1009.50px;top:1972.09px;font-size:32.5px;line-height:1;white-space:pre;color:#8a8a8a;letter-spacing:1.600px;">912.01</span>
<span style="position:absolute;left:912.49px;top:2011.49px;font-size:32.5px;line-height:1;white-space:pre;color:#cfcfcf;letter-spacing:1.400px;">Low</span>
<span style="position:absolute;left:1009.50px;top:2011.49px;font-size:32.5px;line-height:1;white-space:pre;color:#8a8a8a;letter-spacing:1.600px;">910.11</span>
<span style="position:absolute;left:906.03px;top:2052.19px;font-size:32.5px;line-height:1;white-space:pre;color:#cfcfcf;letter-spacing:1.400px;">High</span>
<span style="position:absolute;left:1009.50px;top:2052.19px;font-size:32.5px;line-height:1;white-space:pre;color:#8a8a8a;letter-spacing:1.600px;">924.16</span>
<span style="position:absolute;left:927.38px;top:2091.49px;font-size:32.5px;line-height:1;white-space:pre;color:#cfcfcf;letter-spacing:1.400px;">Vol</span>
<span style="position:absolute;left:1009.75px;top:2091.49px;font-size:32.5px;line-height:1;white-space:pre;color:#8a8a8a;letter-spacing:1.600px;">0</span>
<span style="position:absolute;left:873.93px;top:2130.49px;font-size:32.5px;line-height:1;white-space:pre;color:#cfcfcf;letter-spacing:1.400px;">% Chg</span>
<span style="position:absolute;left:1009.38px;top:2130.49px;font-size:32.5px;line-height:1;white-space:pre;color:#8a8a8a;letter-spacing:1.600px;">65.00%</span>
<div style="position:absolute;left:1246.50px;top:1915.00px;width:276.50px;height:67.00px;box-sizing:border-box;background:#fff;box-shadow:0 0 3px #e5e5e5;border-bottom:6px solid #1a93e6;"></div>
<span style="position:absolute;left:1281.88px;top:1928.57px;font-size:33px;line-height:1;white-space:pre;color:#1c1c1c;letter-spacing:0.945px;">^OEX 912.01</span>
<span style="position:absolute;left:4242.77px;top:1906.91px;font-size:32px;line-height:1;white-space:pre;color:#1e1e1e;letter-spacing:2.200px;">1,000.00</span>
<span style="position:absolute;left:4275.36px;top:2255.11px;font-size:32px;line-height:1;white-space:pre;color:#1e1e1e;letter-spacing:1.900px;">800.00</span>
<span style="position:absolute;left:4275.36px;top:2429.21px;font-size:32px;line-height:1;white-space:pre;color:#1e1e1e;letter-spacing:1.900px;">700.00</span>
<span style="position:absolute;left:4275.36px;top:2603.31px;font-size:32px;line-height:1;white-space:pre;color:#1e1e1e;letter-spacing:1.900px;">600.00</span>
<span style="position:absolute;left:4275.36px;top:2777.41px;font-size:32px;line-height:1;white-space:pre;color:#1e1e1e;letter-spacing:1.900px;">500.00</span>
<span style="position:absolute;left:4275.36px;top:2951.51px;font-size:32px;line-height:1;white-space:pre;color:#1e1e1e;letter-spacing:1.900px;">400.00</span>
<span style="position:absolute;left:4275.36px;top:3125.61px;font-size:32px;line-height:1;white-space:pre;color:#1e1e1e;letter-spacing:1.900px;">300.00</span>
<span style="position:absolute;left:4268.50px;top:2075.61px;font-size:32px;line-height:1;white-space:pre;color:#fff;letter-spacing:2.234px;">912.01</span>
<span style="position:absolute;left:1390.53px;top:3163.91px;font-size:32px;line-height:1;white-space:pre;color:#141414;font-weight:700;letter-spacing:1.137px;transform:scaleX(1.0700);transform-origin:0 0;">Jan 1, 2007</span>
<span style="position:absolute;left:2707.53px;top:3163.91px;font-size:32px;line-height:1;white-space:pre;color:#141414;font-weight:700;letter-spacing:0.433px;transform:scaleX(1.0700);transform-origin:0 0;">Jan 1, 2011</span>
<span style="position:absolute;left:4022.53px;top:3163.91px;font-size:32px;line-height:1;white-space:pre;color:#141414;font-weight:700;letter-spacing:0.994px;transform:scaleX(1.0700);transform-origin:0 0;">Jan 1, 2015</span>
<span style="position:absolute;left:4267.38px;top:3167.91px;font-size:32px;line-height:1;white-space:pre;color:#52cdb6;letter-spacing:2.641px;">Linear</span>
<!-- sec_bottom -->
<span style="position:absolute;left:830.12px;top:3280.21px;font-size:60px;line-height:1;white-space:pre;color:#484848;letter-spacing:0.323px;">Recent Articles</span>
<div style="position:absolute;left:806.00px;top:3369.00px;width:2144.00px;height:2.50px;background:#f3f3f3;"></div>
<div style="position:absolute;left:3148.00px;top:3266.00px;width:1224.00px;height:2.50px;background:#e6e6e6;"></div>
<div style="position:absolute;left:3148.00px;top:3369.00px;width:1224.00px;height:2.50px;background:#e6e6e6;"></div>
<div style="position:absolute;left:3756.00px;top:3267.00px;width:2.50px;height:124.00px;background:#e6e6e6;"></div>
<span style="position:absolute;left:3172.06px;top:3300.45px;font-size:42px;line-height:1;white-space:pre;color:#8b8b8b;letter-spacing:0.488px;">Prev Close</span>
<span style="position:absolute;left:3599.06px;top:3300.45px;font-size:42px;line-height:1;white-space:pre;color:#1e1e1e;font-weight:700;letter-spacing:0.829px;">924.22</span>
<span style="position:absolute;left:3784.06px;top:3300.45px;font-size:42px;line-height:1;white-space:pre;color:#8b8b8b;letter-spacing:1.410px;">High</span>
<span style="position:absolute;left:4215.56px;top:3300.45px;font-size:42px;line-height:1;white-space:pre;color:#1e1e1e;font-weight:700;letter-spacing:0.492px;">924.16</span>
</body></html>
